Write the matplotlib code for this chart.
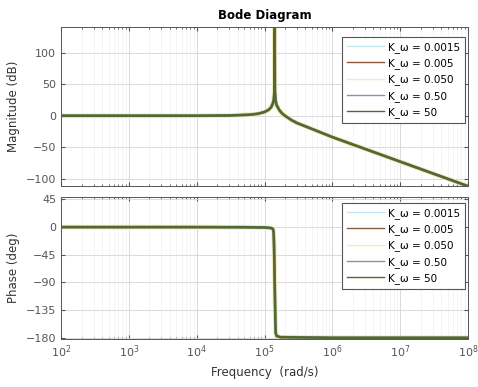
import numpy as np
import matplotlib.pyplot as plt

# frequency points (rad/s) and response
freq = [1e2, 1e3, 1e4, 3e4, 6e4, 8e4, 1e5, 1.15e5, 1.25e5, 1.32e5, 1.37e5,
        1.40e5, 1.41e5, 1.42e5, 1.45e5, 1.5e5, 1.65e5, 1.8e5, 2e5, 2.5e5,
        3e5, 5e5, 1e6, 1e7, 1e8]
mag_db = [0, 0, 0, 0.4, 1.6, 3.2, 6, 9.5, 13.5, 19, 26,
          40, 150, 40, 25, 17, 9, 4, 0, -7,
          -11.5, -21, -34, -73, -112]

freq_ph = [1e2, 1e3, 1e4, 5e4, 1e5, 1.25e5, 1.33e5, 1.36e5, 1.38e5, 1.41e5,
           1.44e5, 1.46e5, 1.5e5, 1.7e5, 1e6, 1e7, 1e8]
phase_deg = [0, 0, 0, -0.2, -0.6, -1.5, -3, -8, -30, -90,
             -150, -172, -177, -179, -180, -180, -180]

k_labels = ["0.0015", "0.005", "0.050", "0.50", "50"]
colors = ["#bfe6f2", "#8a5a3c", "#f5e9c0", "#9a8aa0", "#4f6b2c"]
widths = [2.0, 2.0, 3.4, 2.0, 1.8]

plt.rcParams['font.family'] = 'DejaVu Sans'
plt.rcParams['font.size'] = 8

fig = plt.figure(figsize=(4.78, 3.87), dpi=100)
ax1 = fig.add_axes([0.128, 0.519, 0.851, 0.411])
ax2 = fig.add_axes([0.128, 0.124, 0.851, 0.367], sharex=ax1)

for k, c, w in zip(k_labels, colors, widths):
    ax1.semilogx(freq, mag_db, color=c, lw=w, label="K_ω = " + k)
    ax2.semilogx(freq_ph, phase_deg, color=c, lw=w, label="K_ω = " + k)

ax1.set_xlim(1e2, 1e8)
ax1.set_ylim(-112, 141)
ax1.set_yticks([-100, -50, 0, 50, 100])
ax2.set_ylim(-182, 49)
ax2.set_yticks([-180, -135, -90, -45, 0, 45])

for ax, anchor in ((ax1, (0.993, 0.937)), (ax2, (0.993, 0.958))):
    ax.grid(True, which='major', color='#d4d4d4', lw=0.6)
    ax.grid(True, which='minor', axis='x', color='#f0f0f0', lw=0.5)
    ax.tick_params(which='both', direction='in', top=True, right=True,
                   colors='#555555', labelcolor='#555555', labelsize=8)
    ax.tick_params(which='major', length=3)
    ax.tick_params(which='minor', length=1.5)
    for s in ax.spines.values():
        s.set_color('#555555')
        s.set_linewidth(0.7)
    leg = ax.legend(loc='upper right', bbox_to_anchor=anchor, borderaxespad=0,
                    fontsize=7.5, handlelength=3.6, fancybox=False,
                    framealpha=1, borderpad=0.45, labelspacing=0.52,
                    handletextpad=0.4)
    leg.get_frame().set_edgecolor('#555555')
    leg.get_frame().set_linewidth(0.8)
    for h in leg.get_lines():
        h.set_linewidth(1.0)

plt.setp(ax1.get_xticklabels(), visible=False)

ax1.set_ylabel("Magnitude (dB)", fontsize=8.5, color='#333333')
ax2.set_ylabel("Phase (deg)", fontsize=8.5, color='#333333')
ax2.set_xlabel("Frequency  (rad/s)", fontsize=8.5, color='#333333')
ax1.set_title("Bode Diagram", fontsize=8.5, fontweight='bold', pad=6)

fig.savefig("out.png", dpi=100)
